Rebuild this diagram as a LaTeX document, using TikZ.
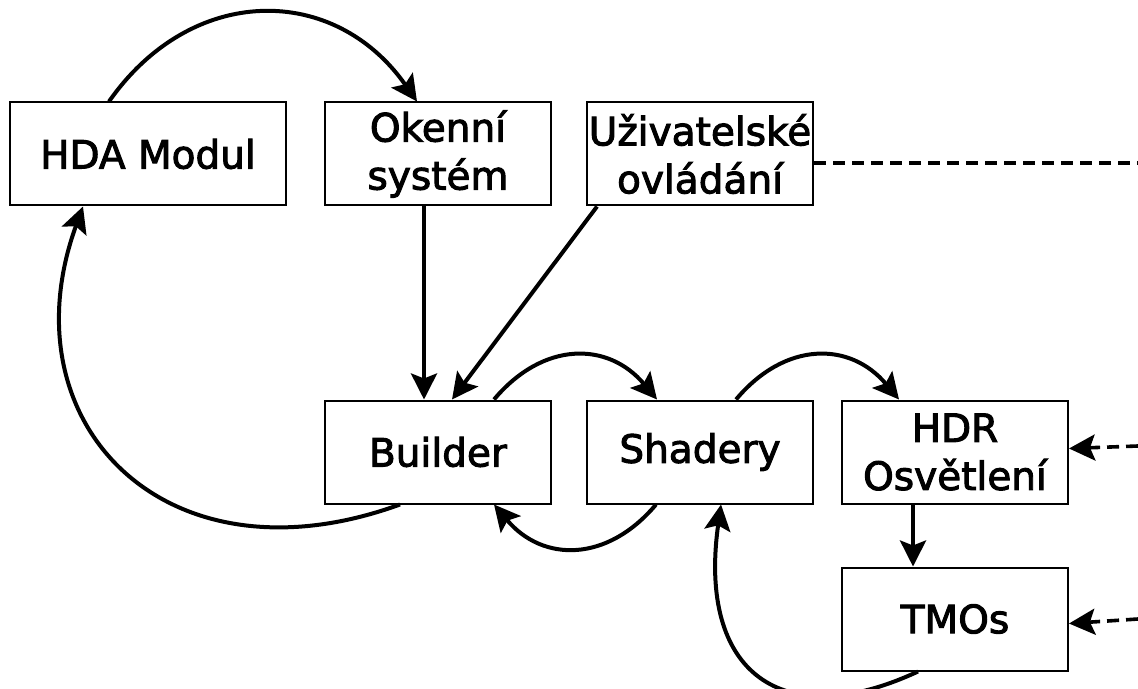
\documentclass[tikz,border=0pt]{standalone}
\usepackage{fontspec}
\setmainfont{DejaVu Sans}[FakeBold=2.5]
\usetikzlibrary{positioning,arrows.meta}

\begin{document}
\begin{tikzpicture}[node distance=17pt, auto,
    box/.style={rectangle, draw, line width=1pt, inner sep=0pt, align=center, minimum height=51.5pt, minimum width=113pt, font=\fontsize{19.5}{24}\selectfont},
    flow/.style={-{Stealth[length=13pt,width=13pt,inset=2.5pt]}, line width=2pt},
    ext/.style={dash pattern=on 6pt off 3.5pt, line width=1.8pt}]
    \useasboundingbox (0,0) rectangle (569pt,-344.5pt);
    % definuj uzly
    \node (hda) [box, minimum width=138pt] at (74pt,-77pt) {HDA Modul};
    \node (okenni) [box, right=18.5pt of hda] {Okenní\\systém};
    \node (uziv) [box, right=of okenni] {Uživatelské\\ovládání};
    \node (builder) [box, below=96.5pt of okenni] {Builder};
    \node (shadery) [box, right=of builder] {Shadery};
    \node (hdr) [box, right=13.5pt of shadery] {HDR\\Osvětlení};
    \node (tmo) [box, below=31pt of hdr] {TMOs};
    \coordinate (outUziv) at (569pt,-81.5pt);
    \coordinate (outHdr) at (569pt,-223pt);
    \coordinate (outTmo) at (569pt,-309.5pt);

    % definuj spojnice
    \draw [flow] ([xshift=-19.5pt]hda.north) to[out=55, in=125, looseness=1.2] ([xshift=-10.5pt]okenni.north);
    \draw [flow] ([xshift=-7pt]okenni.south) -- ([xshift=-7pt]builder.north);
    \draw [flow] ([xshift=-51.5pt]uziv.south) -- ([xshift=7pt]builder.north);
    \draw [flow] ([xshift=-19pt]builder.south) .. controls +(200:125pt) and +(250:115pt) .. ([xshift=-32.5pt]hda.south);
    \draw [flow] ([xshift=28pt]builder.north) to[out=50, in=130, looseness=1.2] ([xshift=-21.5pt]shadery.north);
    \draw [flow] ([xshift=18pt]shadery.north) to[out=50, in=130, looseness=1.2] ([xshift=-28pt]hdr.north);
    \draw [flow] ([xshift=-22pt]shadery.south) to[out=-130, in=-50, looseness=1.2] ([xshift=28pt]builder.south);
    \draw [flow] ([xshift=-18.5pt]tmo.south) .. controls +(205:75pt) and +(262:85pt) .. ([xshift=10.5pt]shadery.south);
    \draw [flow] ([xshift=-21pt]hdr.south) -- ([xshift=-21pt]tmo.north);
    \draw [ext] ([yshift=-4.5pt]uziv.east) -- (outUziv);
    \draw [ext, -{Stealth[length=13pt,width=13pt,inset=2.5pt]}] (outHdr) -- ([yshift=1.75pt]hdr.east);
    \draw [ext, -{Stealth[length=13pt,width=13pt,inset=2.5pt]}] (outTmo) -- ([yshift=-2.25pt]tmo.east);
\end{tikzpicture}
\end{document}
